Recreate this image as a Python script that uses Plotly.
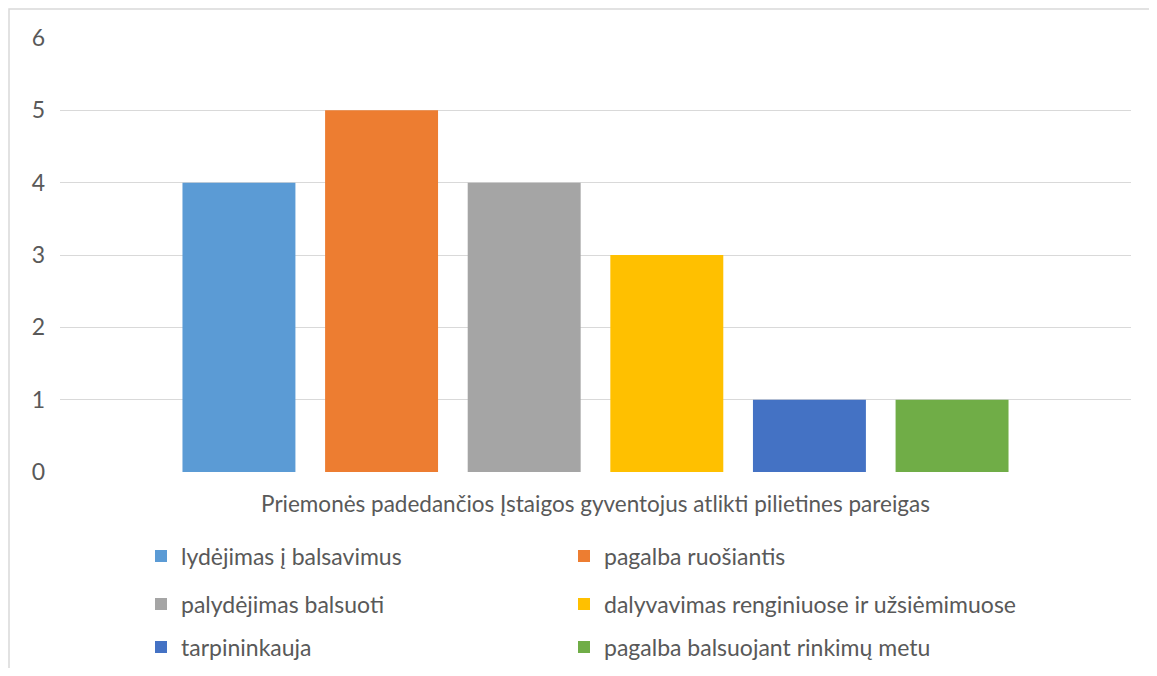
import plotly.graph_objects as go

category = ["Priemonės padedančios Įstaigos gyventojus atlikti pilietines pareigas"]
series_names = [
    "lydėjimas į balsavimus",
    "pagalba ruošiantis",
    "palydėjimas balsuoti",
    "dalyvavimas renginiuose ir užsiėmimuose",
    "tarpininkauja",
    "pagalba balsuojant rinkimų metu",
]
series_values = [4, 5, 4, 3, 1, 1]
colors = ["#5B9BD5", "#ED7D31", "#A5A5A5", "#FFC000", "#4472C4", "#70AD47"]
y_ticks = [0, 1, 2, 3, 4, 5, 6]

FONT = "Lato"
FS = 23
TXT = "#595959"

# figure sits inside the page's 8px body margin
W, H = 1141, 660
L, R, T, B = 52, 18, 30, 196
pw, ph = W - L - R, H - T - B

legend_ids = ["legend", "legend2", "legend3", "legend4", "legend5", "legend6"]
fig = go.Figure()
for i, (name, val, col) in enumerate(zip(series_names, series_values, colors)):
    fig.add_trace(go.Bar(
        x=category, y=[val], name=name, marker=dict(color=col, line=dict(width=0)),
        legend=legend_ids[i], showlegend=True,
    ))

def px_x(x):
    return (x - L) / pw

def px_y(y):
    return (H - B - y) / ph

leg_common = dict(
    orientation="h", xanchor="left", yanchor="middle",
    font=dict(family=FONT, size=FS, color=TXT),
    bgcolor="rgba(0,0,0,0)", itemclick=False, itemdoubleclick=False,
)
row_y = [548, 596, 639]
col_x = [133, 556]

legend_layout = {}
for i, lid in enumerate(legend_ids):
    legend_layout[lid] = dict(x=px_x(col_x[i % 2]), y=px_y(row_y[i // 2]), **leg_common)

fig.update_layout(
    width=W, height=H,
    showlegend=True,
    margin=dict(l=L, r=R, t=T, b=B, autoexpand=False),
    paper_bgcolor="white", plot_bgcolor="white",
    font=dict(family=FONT, size=FS, color=TXT),
    barmode="group", bargap=0.201, bargroupgap=0.208,
    xaxis=dict(
        type="category", showgrid=False, zeroline=False, showline=False,
        ticks="", ticklabelstandoff=16, tickfont=dict(family=FONT, size=22.5, color=TXT),
    ),
    yaxis=dict(
        range=[0, 6], tickvals=y_ticks, showgrid=True, gridcolor="#D9D9D9", gridwidth=1.3,
        zeroline=False, showline=False, ticks="", ticklabelstandoff=14,
        tickfont=dict(family=FONT, size=FS, color=TXT),
    ),
    shapes=[dict(
        type="rect", xref="paper", yref="paper",
        x0=px_x(1), x1=px_x(W + 20), y0=px_y(H + 20), y1=px_y(1),
        line=dict(color="#D9D9D9", width=1.5), fillcolor="rgba(0,0,0,0)", layer="below",
    )],
    **legend_layout,
)

fig.write_html("out.html")
